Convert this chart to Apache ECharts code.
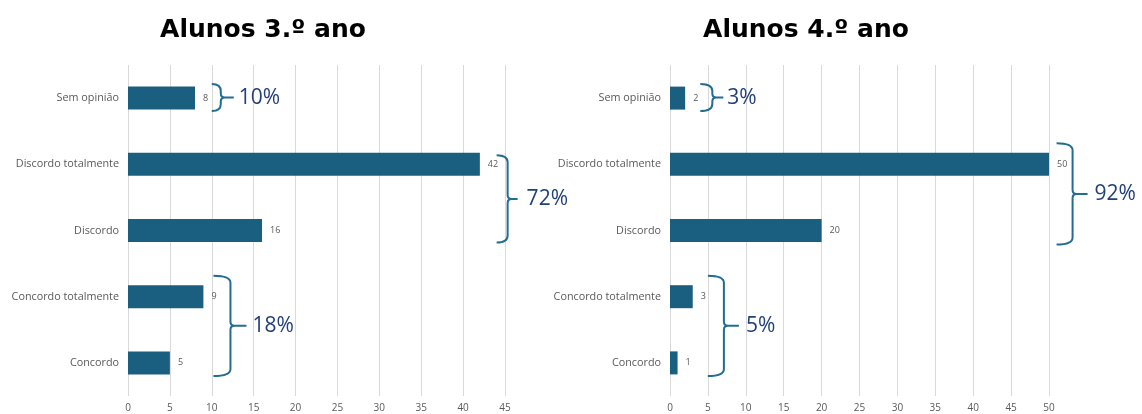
<!DOCTYPE html>
<html>
<head>
<meta charset="utf-8">
<script src="https://cdn.jsdelivr.net/npm/echarts@6/dist/echarts.min.js"></script>
<style>
html,body{margin:0;padding:0;background:#fff;}
#c{width:1142px;height:414px;}
</style>
</head>
<body>
<div id="c"></div>
<script>
// ---- data ----
const categories = ['Sem opinião', 'Discordo totalmente', 'Discordo', 'Concordo totalmente', 'Concordo'];
const values3 = [8, 42, 16, 9, 5];
const values4 = [2, 50, 20, 3, 1];
const ticks3 = [0, 5, 10, 15, 20, 25, 30, 35, 40, 45];
const ticks4 = [0, 5, 10, 15, 20, 25, 30, 35, 40, 45, 50];
const title3 = 'Alunos 3.º ano';
const title4 = 'Alunos 4.º ano';
// grouping annotations: label, anchor value, first / last category index
const braceLabels3 = ['10%', '72%', '18%'];
const braceAt3 = [10, 44, 10.2];
const braceFrom3 = [0, 1, 3];
const braceTo3 = [0, 2, 4];
const braceLabels4 = ['3%', '92%', '5%'];
const braceAt4 = [4, 51, 5];
const braceFrom4 = [0, 1, 3];
const braceTo4 = [0, 2, 4];

// ---- layout / style (pixels) ----
const braceLayout3 = [
  {padTop: 14, padBot: 13, hook: 9, tip: 13, gap: 5},
  {padTop: 9, padBot: 12, hook: 11, tip: 10, gap: 9},
  {padTop: 21, padBot: 13, hook: 17, tip: 16, gap: 6}
];
const braceLayout4 = [
  {padTop: 14, padBot: 13, hook: 12, tip: 11, gap: 4},
  {padTop: 21, padBot: 14, hook: 16, tip: 15, gap: 7},
  {padTop: 21, padBot: 13, hook: 16, tip: 15, gap: 7}
];

const BAR = '#1a5f80';
const BRACE = '#236d91';
const PCT = '#213f7a';
const GRAY = '#595959';

function braceSeries(idx, labels, at, from, to, layout) {
  const data = labels.map((l, i) => [at[i], from[i], to[i], i]);
  return {
    type: 'custom',
    xAxisIndex: idx, yAxisIndex: idx,
    clip: false,
    silent: true,
    data: data,
    encode: {x: 0, y: 1},
    z: 5,
    renderItem: function (params, api) {
      const i = api.value(3);
      const L = layout[i];
      const pTop = api.coord([api.value(0), api.value(1)]);
      const pBot = api.coord([api.value(0), api.value(2)]);
      const x0 = pTop[0];
      const top = pTop[1] - L.padTop;
      const bot = pBot[1] + L.padBot;
      const mid = (top + bot) / 2;
      const x1 = x0 + L.hook;
      const xt = x1 + L.tip;
      const r = Math.min(L.hook, 7);
      const m = 4;
      const d = 'M' + x0 + ' ' + top +
        ' Q' + x1 + ' ' + top + ' ' + x1 + ' ' + (top + r) +
        ' L' + x1 + ' ' + (mid - m) +
        ' Q' + x1 + ' ' + mid + ' ' + (x1 + m) + ' ' + mid +
        ' L' + xt + ' ' + mid +
        ' M' + (x1 + m) + ' ' + mid +
        ' Q' + x1 + ' ' + mid + ' ' + x1 + ' ' + (mid + m) +
        ' L' + x1 + ' ' + (bot - r) +
        ' Q' + x1 + ' ' + bot + ' ' + x0 + ' ' + bot;
      return {
        type: 'group',
        children: [
          {type: 'path', shape: {pathData: d},
           style: {fill: 'none', stroke: BRACE, lineWidth: 2}},
          {type: 'text', x: xt + L.gap, y: mid,
           style: {text: labels[i], fill: PCT, fontSize: 21,
                   fontFamily: 'Open Sans, sans-serif',
                   verticalAlign: 'middle', align: 'left'}}
        ]
      };
    }
  };
}

function xAxis(idx, ticks) {
  return {
    type: 'value', gridIndex: idx,
    min: ticks[0], max: ticks[ticks.length - 1], interval: ticks[1] - ticks[0],
    axisLine: {show: false}, axisTick: {show: false},
    axisLabel: {color: GRAY, fontSize: 10, margin: 7, fontFamily: 'Open Sans, sans-serif'},
    splitLine: {show: true, lineStyle: {color: '#d9d9d9', width: 1}}
  };
}
function yAxis(idx) {
  return {
    type: 'category', gridIndex: idx, data: categories, inverse: true,
    axisLine: {show: false}, axisTick: {show: false},
    axisLabel: {color: GRAY, fontSize: 10.8, margin: 9, fontFamily: 'Open Sans, sans-serif'},
    splitLine: {show: false}
  };
}
function barSeries(idx, vals) {
  return {
    type: 'bar', xAxisIndex: idx, yAxisIndex: idx, data: vals,
    barWidth: 23,
    itemStyle: {color: BAR},
    label: {show: true, position: 'right', distance: 8, color: GRAY, fontSize: 9,
            fontFamily: 'Open Sans, sans-serif'},
    silent: true
  };
}

const chart = echarts.init(document.getElementById('c'), null, {renderer: 'canvas'});
chart.setOption({
  animation: false,
  backgroundColor: '#fff',
  grid: [
    {left: 128, right: 637, top: 65, bottom: 18, containLabel: false},
    {left: 670, right: 93, top: 65, bottom: 18, containLabel: false}
  ],
  xAxis: [xAxis(0, ticks3), xAxis(1, ticks4)],
  yAxis: [yAxis(0), yAxis(1)],
  graphic: [
    {type: 'text', x: 263, y: 30, style: {text: title3, fill: '#000', fontSize: 25, fontWeight: 'bold',
      fontFamily: 'DejaVu Sans, sans-serif', align: 'center', verticalAlign: 'middle'}},
    {type: 'text', x: 806, y: 30, style: {text: title4, fill: '#000', fontSize: 25, fontWeight: 'bold',
      fontFamily: 'DejaVu Sans, sans-serif', align: 'center', verticalAlign: 'middle'}}
  ],
  series: [
    barSeries(0, values3),
    barSeries(1, values4),
    braceSeries(0, braceLabels3, braceAt3, braceFrom3, braceTo3, braceLayout3),
    braceSeries(1, braceLabels4, braceAt4, braceFrom4, braceTo4, braceLayout4)
  ]
});
</script>
</body>
</html>
